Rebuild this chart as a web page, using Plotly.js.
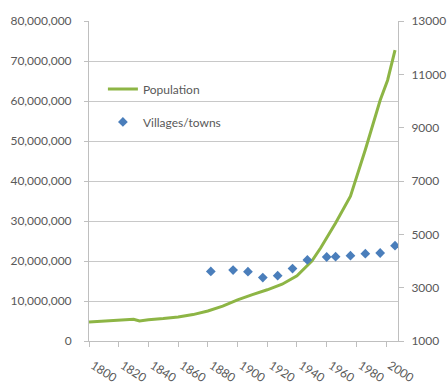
<!DOCTYPE html>
<html>
<head>
<meta charset="utf-8">
<script src="https://cdn.plot.ly/plotly-3.0.1.min.js"></script>
<style>
  html, body { margin: 0; padding: 0; background: #ffffff; }
  #chart { width: 447px; height: 385px; }
</style>
</head>
<body>
<div id="chart"></div>
<script>
// Population (left axis)
const popYears = [1800, 1810, 1820, 1830, 1834, 1840, 1850, 1860, 1870, 1880, 1890, 1900,
                  1910, 1920, 1930, 1940, 1950, 1956, 1966, 1976, 1986, 1996, 2001, 2006];
const popValues = [4750000, 4950000, 5100000, 5450000, 5000000, 5300000, 5600000, 6000000,
                   6600000, 7500000, 8700000, 10300000, 11600000, 12800000, 14200000, 16300000,
                   20000000, 23300000, 29500000, 36200000, 47800000, 60200000, 65200000, 72700000];

// Villages/towns count (right axis)
const villageYears = [1882, 1897, 1907, 1917, 1927, 1937, 1947, 1960, 1966, 1976, 1986, 1996, 2006];
const villageValues = [3610, 3660, 3600, 3380, 3450, 3715, 4040, 4150, 4160, 4200, 4275, 4300, 4575];

// Axis ticks
const leftTicks = [0, 10000000, 20000000, 30000000, 40000000, 50000000, 60000000, 70000000, 80000000];
const rightTicks = [1000, 3000, 5000, 7000, 9000, 11000, 13000];
const yearTicks = [1800, 1820, 1840, 1860, 1880, 1900, 1920, 1940, 1960, 1980, 2000];

const textColor = '#595959';
const lineGray = '#bfbfbf';
const fontFamily = 'Lato, "Open Sans", sans-serif';

const traces = [
  {
    x: popYears,
    y: popValues,
    name: 'Population',
    type: 'scatter',
    mode: 'lines',
    line: { color: '#8db545', width: 3 },
    yaxis: 'y',
    legendgroup: 'pop'
  },
  {
    x: villageYears,
    y: villageValues,
    name: 'Villages/towns',
    type: 'scatter',
    mode: 'markers',
    marker: { symbol: 'diamond', size: 7.5, color: '#4a7ebb' },
    yaxis: 'y2',
    legendgroup: 'vil'
  }
];

const layout = {
  width: 447,
  height: 385,
  margin: { l: 89, r: 49, t: 21, b: 44, pad: 0 },
  paper_bgcolor: '#ffffff',
  plot_bgcolor: '#ffffff',
  font: { family: fontFamily, size: 12, color: textColor },
  showlegend: true,
  legend: {
    x: 0.045, y: 0.833, xanchor: 'left', yanchor: 'top',
    bgcolor: 'rgba(0,0,0,0)',
    font: { family: fontFamily, size: 12, color: textColor },
    tracegroupgap: 14,
    itemwidth: 30
  },
  xaxis: {
    range: [1800, 2008],
    tickmode: 'array',
    tickvals: yearTicks,
    ticktext: yearTicks.map(String),
    tickangle: 33,
    ticks: 'outside',
    ticklen: 5,
    tickcolor: lineGray,
    ticklabelstandoff: 7,
    ticklabelshift: 4,
    showline: true,
    linecolor: lineGray,
    linewidth: 1,
    showgrid: false,
    zeroline: false,
    tickfont: { family: fontFamily, size: 12, color: textColor }
  },
  yaxis: {
    range: [0, 80000000],
    tickmode: 'array',
    tickvals: leftTicks,
    ticktext: leftTicks.map(v => v.toLocaleString('en-US')),
    ticks: 'outside',
    ticklen: 4,
    tickcolor: lineGray,
    ticklabelstandoff: 10,
    showline: true,
    linecolor: lineGray,
    showgrid: true,
    gridcolor: '#c8c8c8',
    gridwidth: 1,
    zeroline: false,
    tickfont: { family: fontFamily, size: 12, color: textColor }
  },
  yaxis2: {
    range: [1000, 13000],
    overlaying: 'y',
    side: 'right',
    tickmode: 'array',
    tickvals: rightTicks,
    ticktext: rightTicks.map(String),
    ticks: 'outside',
    ticklen: 5,
    tickcolor: lineGray,
    ticklabelstandoff: 5,
    showline: true,
    linecolor: lineGray,
    showgrid: false,
    zeroline: false,
    tickfont: { family: fontFamily, size: 12, color: textColor }
  }
};

Plotly.newPlot('chart', traces, layout, { displayModeBar: false, staticPlot: true });
</script>
</body>
</html>
